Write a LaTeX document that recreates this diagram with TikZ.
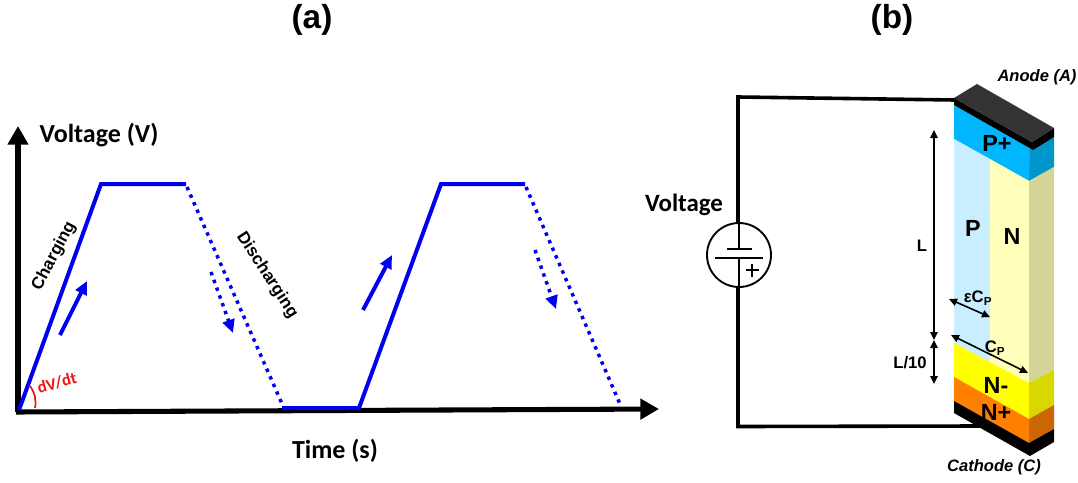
\documentclass[tikz,border=0pt]{standalone}
\usepackage{fontspec}
\setmainfont{Liberation Sans}
\newfontfamily\headfont{Carlito}
\usepackage{tikz}
\usetikzlibrary{arrows.meta, positioning}
\definecolor{ramp}{RGB}{0,0,240}
\definecolor{slope}{RGB}{240,20,20}
\definecolor{pplus}{RGB}{0,183,255}
\definecolor{pplusside}{RGB}{0,150,204}
\definecolor{player}{RGB}{201,238,255}
\definecolor{nlayer}{RGB}{255,255,187}
\definecolor{nside}{RGB}{212,212,153}
\definecolor{nminus}{RGB}{255,255,0}
\definecolor{nminusside}{RGB}{216,216,0}
\definecolor{nplus}{RGB}{255,128,0}
\definecolor{nplusside}{RGB}{204,102,0}
\definecolor{contact}{RGB}{51,51,51}
\tikzset{
  axisline/.style={line width=3.8pt, -{Triangle[length=14pt,width=15pt]}},
  charge/.style={ramp, line width=3pt},
  discharge/.style={ramp, line width=2.6pt, dash pattern=on 2.6pt off 3.6pt},
  wire/.style={line width=2.7pt, line cap=round},
  dimline/.style={line width=1.2pt, {Triangle[length=6pt,width=5.5pt]}-{Triangle[length=6pt,width=5.5pt]}},
  titlelabel/.style={font=\bfseries\fontsize{25}{25}\selectfont},
  layerlabel/.style={font=\bfseries\fontsize{17.5}{17.5}\selectfont},
  dimlabel/.style={font=\bfseries\fontsize{12.5}{12.5}\selectfont, inner sep=0pt},
  headlabel/.style={font=\headfont\bfseries\fontsize{19.5}{19.5}\selectfont},
  pinlabel/.style={font=\bfseries\itshape\fontsize{12.4}{12.4}\selectfont},
  phaselabel/.style={font=\bfseries\fontsize{12.8}{12.8}\selectfont},
}
\begin{document}
\begin{tikzpicture}[x=0.75pt,y=-0.75pt]
\useasboundingbox (0,0) rectangle (1078,482);

% Panel a: voltage ramps
\begin{scope}
  \node[titlelabel] (titlea) at (312,20) {(a)};
  \draw[axisline] (18,412) -- (18,126);
  \draw[axisline] (16,412) -- (659,409);
  \node[headlabel] (ylabel) at (99,135) {Voltage (V)};
  \node[headlabel] (xlabel) at (335,451) {Time (s)};
  \draw[charge, line join=miter] (19,410) -- (101,184) -- (186,184);
  \draw[discharge] (187,187) -- (283,406);
  \draw[charge, line join=miter] (282,408) -- (359,408) -- (441,184) -- (525,184);
  \draw[discharge] (526,187) -- (620,404);
  \draw[charge, -{Triangle[length=10pt,width=9pt]}] (60,335) -- (87,281);
  \draw[charge, -{Triangle[length=10pt,width=9pt]}] (363,310) -- (392,255);
  \draw[discharge, -{Triangle[length=10pt,width=9pt]}] (211,272) -- (233,333);
  \draw[discharge, -{Triangle[length=10pt,width=9pt]}] (535,250) -- (556,309);
  \node[phaselabel, rotate=62] (charging) at (54,256) {Charging};
  \node[phaselabel, rotate=-57] (discharging) at (267,275) {Discharging};
  \draw[slope, line width=1.3pt] (30,386) to[bend left=22] (35,408);
  \node[slope, rotate=15, font=\headfont\bfseries\fontsize{12.5}{12.5}\selectfont] (dvdt) at (57,383) {dV/dt};
\end{scope}

% Panel b: device and source
\begin{scope}
  \node[titlelabel] (titleb) at (892,20) {(b)};
  % layers
  \fill[pplus] (954,105) -- (1033,150) -- (1029,181) -- (954,139) -- cycle;
  \fill[pplusside] (1030,149) -- (1054,137) -- (1054,167) -- (1029,181) -- cycle;
  \fill[player] (954,139) -- (990,159) -- (990,362) -- (954,343) -- cycle;
  \fill[nlayer] (990,159) -- (1029,181) -- (1029,383) -- (990,362) -- cycle;
  \fill[nside] (1029,181) -- (1054,167) -- (1054,370) -- (1029,383) -- cycle;
  \fill[nminus] (954,343) -- (1029,383) -- (1029,419) -- (954,377) -- cycle;
  \fill[nminusside] (1029,383) -- (1054,370) -- (1054,405) -- (1029,419) -- cycle;
  \fill[nplus] (954,377) -- (1029,419) -- (1029,443) -- (954,401) -- cycle;
  \fill[nplusside] (1029,419) -- (1054,405) -- (1054,429) -- (1029,443) -- cycle;
  \fill[black] (954,401) -- (1029,443) -- (1054,429) -- (1054,442) -- (1030,456) -- (954,413) -- cycle;
  \fill[black] (954,98) -- (1032,142) -- (1054,128) -- (1054,137) -- (1033,150) -- (954,105) -- cycle;
  \fill[contact] (954,98) -- (977,84) -- (1054,128) -- (1032,142) -- cycle;
  % source and wires
  \node[circle, draw, line width=1.4pt, minimum size=48pt, inner sep=0pt] (source) at (739,255) {};
  \coordinate (anodepin) at (955,100);
  \coordinate (cathodepin) at (981,426);
  \draw[wire] (anodepin) -- (738,97) -- (738,222);
  \draw[wire] (738,288) -- (738,426.5) -- (cathodepin);
  \draw[line width=1.4pt] (source.north) -- (739,249);
  \draw[line width=1.4pt] (727,249) -- (752,249);
  \draw[line width=1.4pt] (715,258) -- (763,258);
  \draw[line width=1.4pt] (739,258) -- (source.south);
  \draw[line width=1.2pt] (752,264) -- (752,277) (745.5,270) -- (758.5,270);
  \node[font=\headfont\bfseries\fontsize{18.7}{18.7}\selectfont] (vlabel) at (684,205) {Voltage};
  % dimensions
  \draw[dimline] (934,130) -- (934,340);
  \draw[dimline] (934,340) -- (934,384);
  \draw[dimline] (949,299) -- (990,317);
  \draw[dimline] (951,335) -- (1028,373);
  \node[dimlabel] (llabel) at (922,246) {L};
  \node[dimlabel] (l10label) at (910,363) {L/10};
  \node[dimlabel] (ecp) at (978,298) {εC\textsubscript{P}};
  \node[dimlabel] (cp) at (995,348) {C\textsubscript{P}};
  % layer names
  \node[layerlabel] (pp) at (997,143) {P+};
  \node[layerlabel] (pl) at (973,228) {P};
  \node[layerlabel] (nl) at (1012,236) {N};
  \node[layerlabel] (nm) at (996,385) {N-};
  \node[layerlabel] (np) at (996,412) {N+};
  \node[pinlabel] (anode) at (1037,77) {Anode (A)};
  \node[pinlabel] (cathode) at (994,467) {Cathode (C)};
\end{scope}

\end{tikzpicture}
\end{document}
